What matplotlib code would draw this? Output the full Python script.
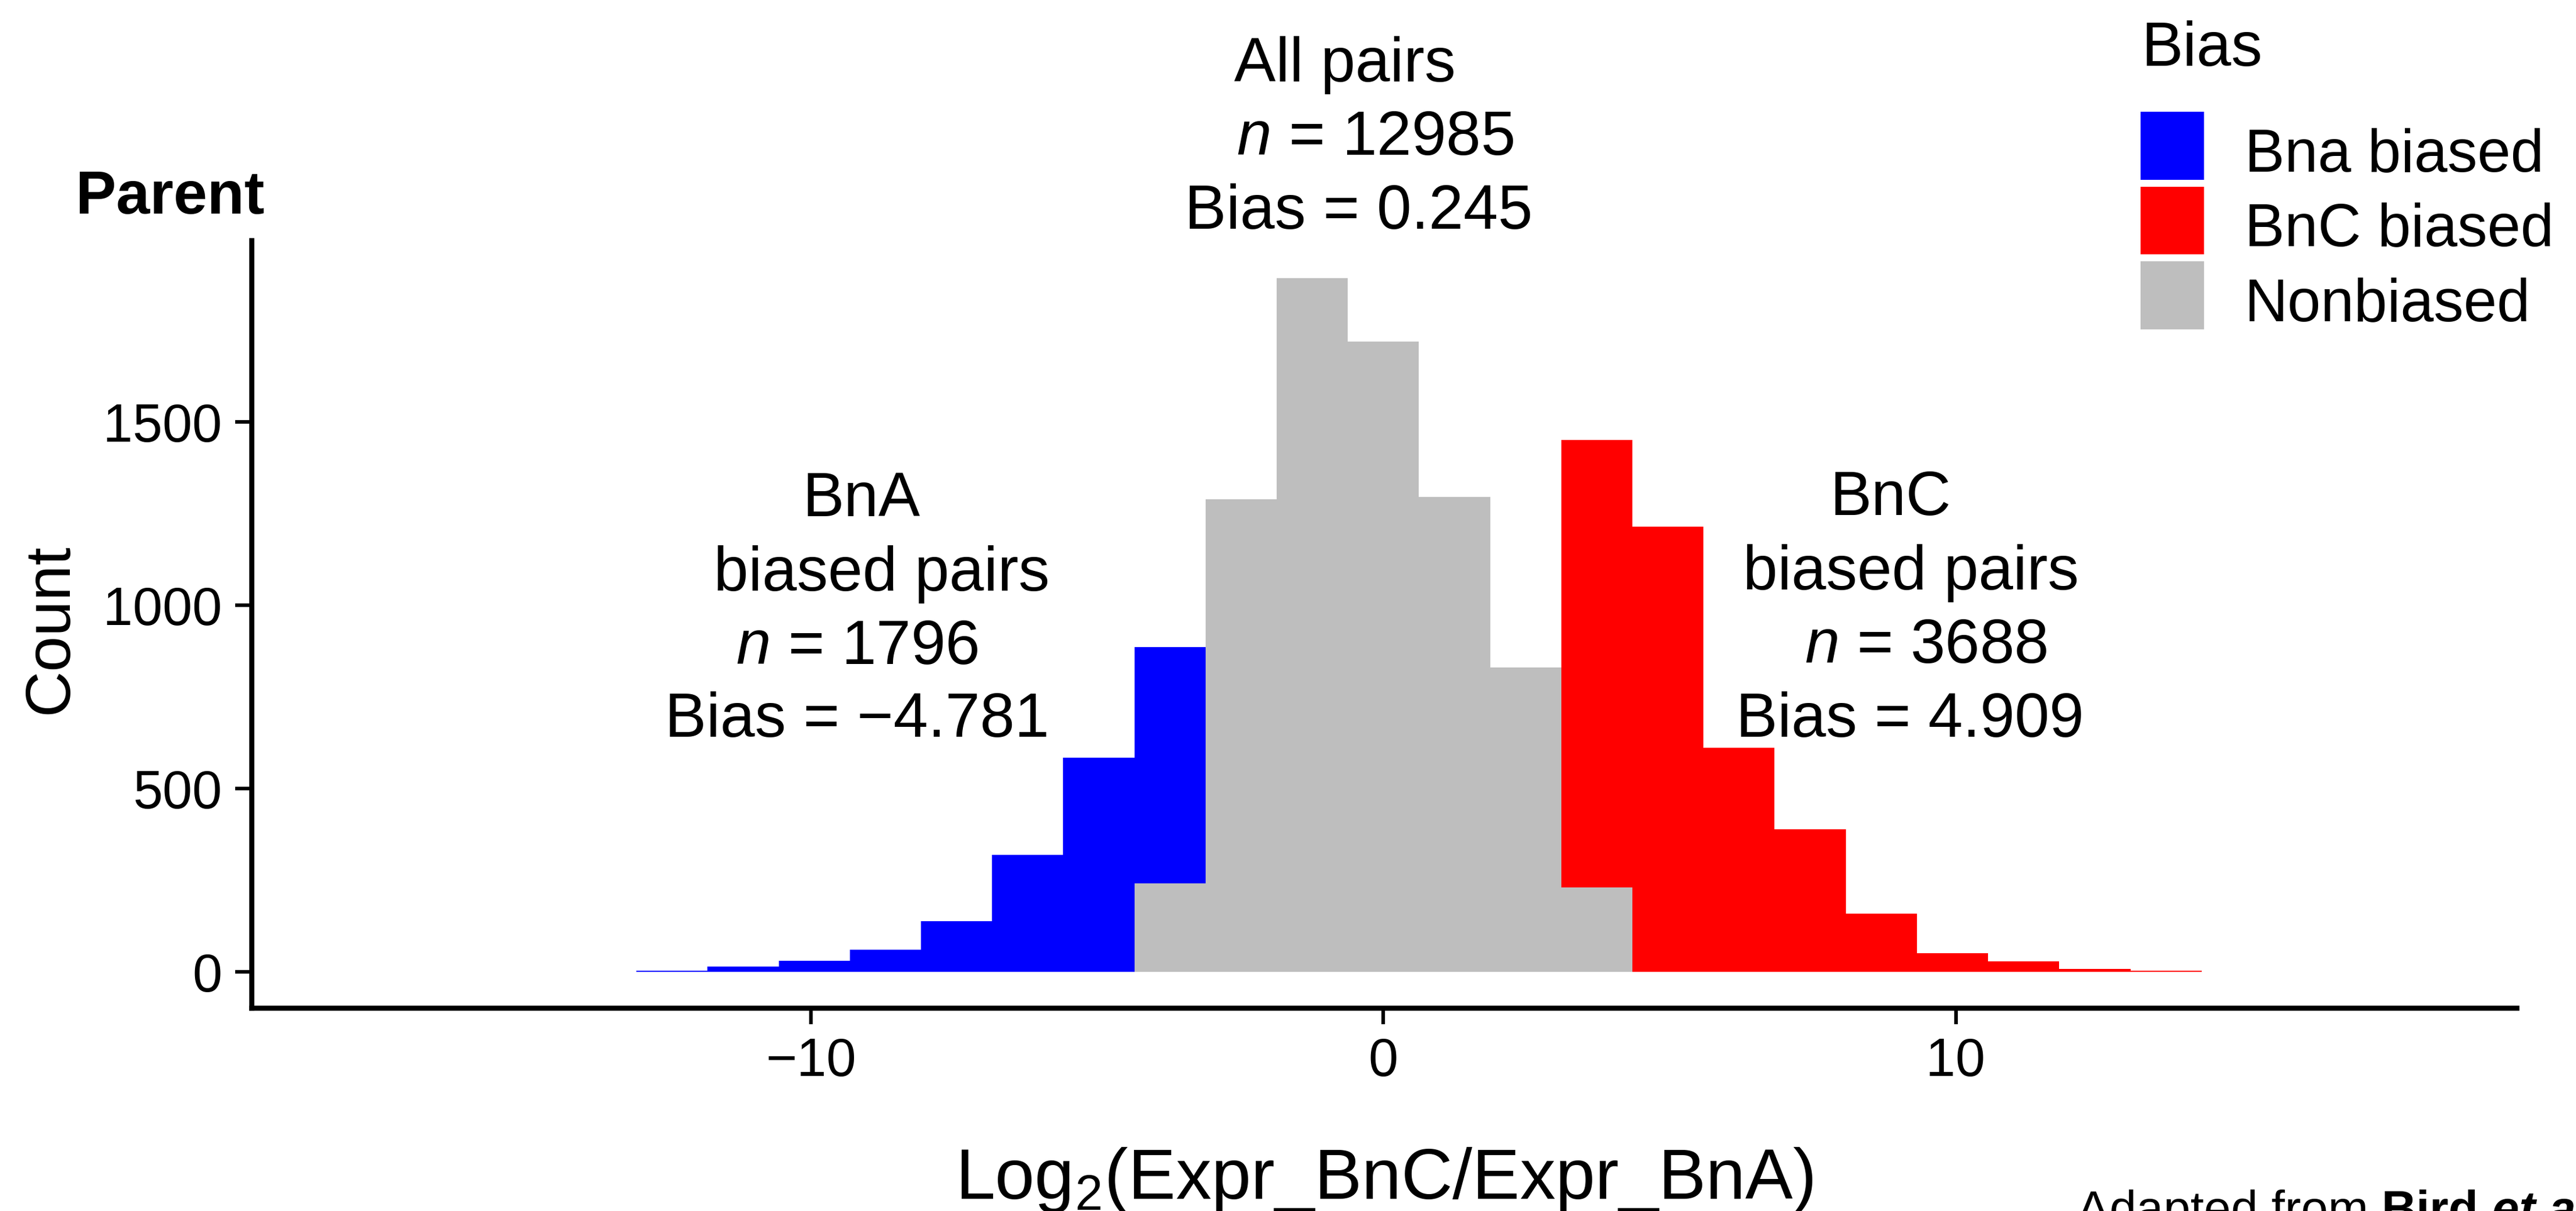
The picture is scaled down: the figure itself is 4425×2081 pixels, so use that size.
import matplotlib
matplotlib.use("Agg")
import matplotlib.pyplot as plt
from matplotlib.patches import Rectangle

plt.rcParams['font.family'] = ['Liberation Sans', 'DejaVu Sans']
plt.rcParams['mathtext.fontset'] = 'custom'
plt.rcParams['mathtext.rm'] = 'Liberation Sans'
plt.rcParams['mathtext.it'] = 'Liberation Sans:italic'
plt.rcParams['mathtext.bf'] = 'Liberation Sans:bold'

# Histogram bins (centres, log2 ratio) and stacked counts per bias class
bin_centers = [-12.43, -11.187, -9.944, -8.701, -7.458, -6.215, -4.972, -3.729,
               -2.486, -1.243, 0.0, 1.243, 2.486, 3.729, 4.972, 6.215, 7.458,
               8.701, 9.944, 11.187, 12.43, 13.673]
bin_width = 1.243
bna_counts = [4, 15, 31, 60, 138, 319, 584, 645, 0, 0, 0, 0, 0, 0, 0, 0, 0, 0, 0, 0, 0, 0]
nonbiased_counts = [0, 0, 0, 0, 0, 0, 0, 242, 1290, 1893, 1720, 1296, 830, 230, 0, 0, 0, 0, 0, 0, 0, 0]
bnc_counts = [0, 0, 0, 0, 0, 0, 0, 0, 0, 0, 0, 0, 0, 1221, 1215, 611, 389, 159, 51, 29, 9, 4]

legend_labels = ["Bna biased", "BnC biased", "Nonbiased"]
colors = {"Bna biased": "#0000FF", "BnC biased": "#FF0000", "Nonbiased": "#BEBEBE"}

x_ticks = [-10, 0, 10]
y_ticks = [0, 500, 1000, 1500]

W, H = 4425, 2081
fig = plt.figure(figsize=(W / 100, H / 100), dpi=100)
ax = fig.add_axes([431.7 / W, 1 - 1732 / H, (4323 - 431.7) / W, (1732 - 413) / H])

# Stacked histogram: nonbiased at the bottom, biased classes on top
ax.bar(bin_centers, nonbiased_counts, width=bin_width, color=colors["Nonbiased"], linewidth=0)
ax.bar(bin_centers, bna_counts, width=bin_width, bottom=nonbiased_counts,
       color=colors["Bna biased"], linewidth=0)
ax.bar(bin_centers, bnc_counts, width=bin_width, bottom=nonbiased_counts,
       color=colors["BnC biased"], linewidth=0)

ax.set_xlim(-19.78, 19.80)
ax.set_ylim(-98, 1996)
ax.set_xticks(x_ticks)
ax.set_yticks(y_ticks)
for side in ("top", "right"):
    ax.spines[side].set_visible(False)
for side in ("left", "bottom"):
    ax.spines[side].set_linewidth(6.2)
ax.tick_params(axis="both", length=20, width=4.5, labelsize=66, pad=16, color="black")

# Group annotations
ann_fs = 77
texts = [
    (-0.67, 2430, "All pairs"),
    (-0.14, 2229, r"$\it{n}$ = 12985"),
    (-0.43, 2028, "Bias = 0.245"),
    (-9.12, 1243, "BnA"),
    (-8.77, 1041, "biased pairs"),
    (-9.20, 840, r"$\it{n}$ = 1796"),
    (-9.20, 642, "Bias = \u22124.781"),
    (8.86, 1246, "BnC"),
    (9.22, 1044, "biased pairs"),
    (9.48, 843, r"$\it{n}$ = 3688"),
    (9.20, 642, "Bias = 4.909"),
]
for x, y, s in texts:
    ax.text(x, y, s, ha="center", va="baseline", fontsize=ann_fs, clip_on=False)

# Axis titles and panel label
fig.text(87 / W, 1 - 1081 / H, "Count", rotation=90, ha="center", va="center", fontsize=79)
fig.text(2378 / W, (H - 2060) / H, r"Log$_2$(Expr_BnC/Expr_BnA)", ha="center",
         va="baseline", fontsize=88)
fig.text(130 / W, 1 - 367 / H, "Parent", ha="left", va="baseline", fontsize=75, weight="bold")

# Legend drawn as keys and labels
fig.text(3678 / W, 1 - 113 / H, "Bias", ha="left", va="baseline", fontsize=77)
key_tops = [192.5, 320.7, 449.0]
for top, lab in zip(key_tops, legend_labels):
    fig.add_artist(Rectangle((3677 / W, 1 - (top + 116.5) / H), 109 / W, 116.5 / H,
                             transform=fig.transFigure, facecolor=colors[lab],
                             edgecolor="none"))
    fig.text(3856 / W, 1 - (top + 102) / H, lab, ha="left", va="baseline", fontsize=74)

# Source credit, pieces laid out one after another
renderer = fig.canvas.get_renderer()
cy = (H - 2104.5) / H
cx = 3568
pieces = [("Adapted from", {}, 22), ("Bird", {"weight": "bold"}, 24),
          ("et al.", {"weight": "bold", "style": "italic"}, 0)]
for s, kw, gap in pieces:
    t = fig.text(cx / W, cy, s, ha="left", va="baseline", fontsize=60, **kw)
    cx = t.get_window_extent(renderer).x1 + gap

fig.savefig("out.png", dpi=100, facecolor="white")
